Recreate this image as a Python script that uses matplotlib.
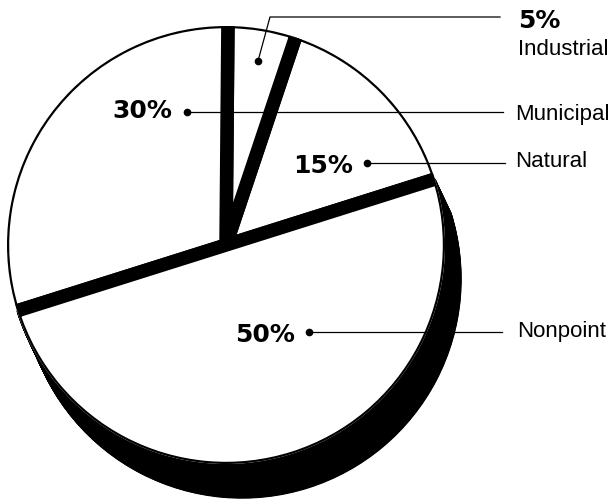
import matplotlib
matplotlib.use("Agg")
import matplotlib.pyplot as plt
from matplotlib.patches import Circle, Wedge
import numpy as np

# Sources of pollution, share of total load (%)
categories = ["Natural", "Industrial", "Municipal", "Nonpoint"]
shares = [15, 5, 30, 50]
pct_labels = ["15%", "5%", "30%", "50%"]

W, H = 616, 502
fig = plt.figure(figsize=(W / 100, H / 100), dpi=100)
ax = fig.add_axes([0, 0, 1, 1])

cx, cy = 226, H - 246          # pie centre (pixel units, y up)
R = 219                        # visible radius
start = 17.5                   # angle where the first slice begins
gap_px = 13.5                  # black separator width
arc_px = 2.2                   # outline width along the rim
gap_pt = gap_px * 72 / 100

bounds = start + 360 * np.concatenate([[0], np.cumsum(shares)]) / sum(shares)

# solid extrusion below the largest slice
dx, dy = 16, -34
for t in np.linspace(0, 1, 80):
    ax.add_patch(Wedge((cx + t * dx, cy + t * dy), R, bounds[3], bounds[4],
                       facecolor="black", edgecolor="black", lw=1, zorder=1))

wedges, _ = ax.pie(shares, startangle=start, counterclock=True,
                   center=(cx, cy), radius=R + gap_px / 2 - arc_px,
                   colors=["white"] * 4,
                   wedgeprops=dict(edgecolor="black", linewidth=gap_pt,
                                   joinstyle="round"))
clip = Circle((cx, cy), R, transform=ax.transData)
for w in wedges:
    w.set_zorder(2)
    w.set_clip_on(True)
    w.set_clip_path(clip)

ax.set_xlim(0, W)
ax.set_ylim(0, H)
ax.set_aspect("auto")
ax.axis("off")

def Y(v):
    return H - v

bold = dict(family="DejaVu Sans", fontweight="bold", fontsize=18, color="black", zorder=5)
reg = dict(family="Liberation Sans", fontsize=16, color="black", zorder=5)
lead = dict(color="black", lw=0.9, zorder=4)
dot = dict(marker="o", ms=4.5, color="black", zorder=4, ls="none")

# Municipal
ax.text(112, Y(118), pct_labels[2], ha="left", va="baseline", **bold)
ax.plot([187, 503], [Y(113), Y(113)], **lead)
ax.plot([187], [Y(113)], **dot)
ax.text(515, Y(120), categories[2], ha="left", va="baseline", **reg)

# Natural
ax.text(293, Y(173), pct_labels[0], ha="left", va="baseline", **bold)
ax.plot([367, 505], [Y(164), Y(164)], **lead)
ax.plot([367], [Y(164)], **dot)
ax.text(515, Y(167), categories[0], ha="left", va="baseline", **reg)

# Nonpoint
ax.text(235, Y(342), pct_labels[3], ha="left", va="baseline", **bold)
ax.plot([309, 502], [Y(333), Y(333)], **lead)
ax.plot([309], [Y(333)], **dot)
ax.text(517, Y(337), categories[3], ha="left", va="baseline", **reg)

# Industrial
ax.plot([258, 270, 500], [Y(62), Y(18), Y(18)], **lead)
ax.plot([258], [Y(62)], **dot)
ax.text(518, Y(28), pct_labels[1], ha="left", va="baseline", **bold)
ax.text(518, Y(55), categories[1], ha="left", va="baseline", **reg)

fig.savefig("out.png", dpi=100, facecolor="white")
